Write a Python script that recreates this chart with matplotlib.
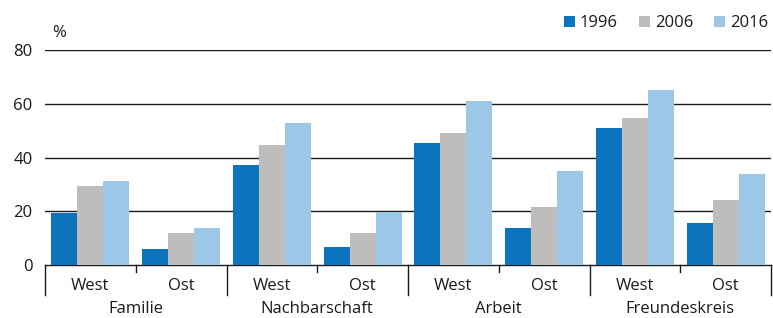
import matplotlib
matplotlib.use("Agg")
import matplotlib.pyplot as plt
from matplotlib.transforms import blended_transform_factory
import numpy as np

plt.rcParams['font.family'] = ['Open Sans', 'DejaVu Sans']

groups = ["Familie", "Nachbarschaft", "Arbeit", "Freundeskreis"]
regions = ["West", "Ost"]
years = ["1996", "2006", "2016"]
v1996 = [19.2, 5.8, 37.2, 6.8, 45.5, 13.6, 51.1, 15.6]
v2006 = [29.4, 11.8, 44.5, 11.8, 49.0, 21.5, 54.8, 24.2]
v2016 = [31.3, 13.9, 52.7, 19.8, 61.1, 35.0, 65.2, 33.9]
colors = ["#0b74bc", "#bdbdbd", "#9cc7e6"]

W, H = 773, 318
FS = 12
fig = plt.figure(figsize=(W / 100, H / 100), dpi=100)
ax = fig.add_axes([45 / W, (H - 265) / H, 726 / W, 215 / H])

n = len(v1996)
x = np.arange(n)
bw = 0.287
for i, (vals, c, lab) in enumerate(zip([v1996, v2006, v2016], colors, years)):
    ax.bar(x + (i - 1) * bw, vals, width=bw, color=c, label=lab, linewidth=0, zorder=3)

ax.set_xlim(-0.5, n - 0.5)
ax.set_ylim(0, 80)
ax.set_yticks([0, 20, 40, 60, 80])
ax.tick_params(axis='y', length=0, labelsize=FS, pad=9, colors='#1a1a1a')
ax.set_xticks([])
for s in ['top', 'right', 'left']:
    ax.spines[s].set_visible(False)
ax.spines['bottom'].set_color('#1a1a1a')
ax.spines['bottom'].set_linewidth(1.0)
for yv in [20, 40, 60, 80]:
    ax.axhline(yv, color='#1a1a1a', linewidth=1.0, zorder=1)

tr = blended_transform_factory(ax.transData, ax.transAxes)
py = 1 / 215
for b in np.arange(-0.5, n, 1.0):
    k = int(b + 0.5)
    if k % 2 == 0:
        ax.plot([b, b], [0, -30 * py], color='#1a1a1a', lw=1.0, transform=tr, clip_on=False)
    else:
        ax.plot([b, b], [0, -7 * py], color='#1a1a1a', lw=1.0, transform=tr, clip_on=False)

for i in range(n):
    ax.text(i, -21 * py, regions[i % 2], transform=tr, ha='center', va='center', fontsize=FS, color='#1a1a1a')
for g, name in enumerate(groups):
    ax.text(2 * g + 0.5, -44 * py, name, transform=tr, ha='center', va='center', fontsize=FS, color='#1a1a1a')

fig.text(52 / W, 1 - 33 / H, "%", ha='left', va='center', fontsize=FS, color='#1a1a1a')

leg = fig.legend(loc='center left', bbox_to_anchor=(564 / W, 1 - 23 / H), ncol=3, frameon=False,
                 fontsize=FS, handlelength=0.66, handleheight=0.66, handletextpad=0.3,
                 columnspacing=1.25, borderaxespad=0, borderpad=0)
for t in leg.get_texts():
    t.set_color('#1a1a1a')

fig.savefig("out.png", dpi=100)
